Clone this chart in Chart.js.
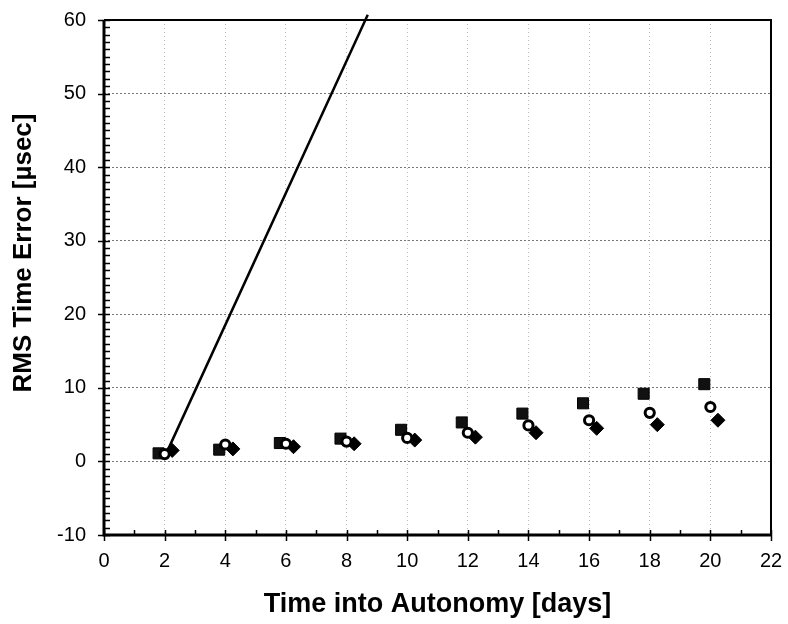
<!DOCTYPE html>
<html>
<head>
<meta charset="utf-8">
<script src="https://cdn.jsdelivr.net/npm/chart.js@4"></script>
<style>
  html, body { margin: 0; padding: 0; background: #fff; }
</style>
</head>
<body>
<canvas id="rmsChart" width="788" height="624"></canvas>
<script>
// values
const squareDays = [1.8, 3.8, 5.8, 7.8, 9.8, 11.8, 13.8, 15.8, 17.8, 19.8];
const squareErr = [1.1, 1.6, 2.5, 3.1, 4.3, 5.3, 6.5, 7.9, 9.2, 10.5];
const circleDays = [2, 4, 6, 8, 10, 12, 14, 16, 18, 20];
const circleErr = [1.0, 2.3, 2.4, 2.7, 3.2, 3.9, 4.9, 5.6, 6.6, 7.4];
const diamondDays = [2.25, 4.25, 6.25, 8.25, 10.25, 12.25, 14.25, 16.25, 18.25, 20.25];
const diamondErr = [1.5, 1.7, 2.0, 2.4, 2.9, 3.3, 3.9, 4.5, 5.0, 5.6];
const lineDays = [2.1, 8.7];
const lineErr = [1.5, 60.7];

const xTitle = 'Time into Autonomy [days]';
const yTitle = 'RMS Time Error [\u00b5sec]';

const pts = (xs, ys) => xs.map((x, i) => ({ x, y: ys[i] }));
const FONT = "'Liberation Sans', Arial, sans-serif";

// inside minor ticks, frame and rotated y title
const axisFrame = {
    id: 'axisFrame',
    afterDraw(chart) {
        const { ctx, chartArea: a, scales: { x, y } } = chart;
        ctx.save();
        ctx.strokeStyle = '#000';
        ctx.lineWidth = 1.5;
        ctx.beginPath();
        for (let v = y.min; v <= y.max; v++) {
            const py = Math.round(y.getPixelForValue(v)) + 0.5;
            const major = v % 10 === 0;
            ctx.moveTo(a.left - (major ? 6 : 0), py);
            ctx.lineTo(a.left + 6, py);
        }
        for (let v = x.min; v <= x.max; v++) {
            const px = Math.round(x.getPixelForValue(v)) + 0.5;
            const major = v % 2 === 0;
            ctx.moveTo(px, a.bottom + (major ? 6 : 0));
            ctx.lineTo(px, a.bottom - 5);
        }
        ctx.stroke();

        ctx.lineWidth = 2;
        ctx.beginPath();
        ctx.moveTo(a.left, a.top);
        ctx.lineTo(a.right, a.top);
        ctx.lineTo(a.right, a.bottom);
        ctx.stroke();
        ctx.lineWidth = 3;
        ctx.beginPath();
        ctx.moveTo(a.left, a.top);
        ctx.lineTo(a.left, a.bottom);
        ctx.lineTo(a.right, a.bottom);
        ctx.stroke();

        ctx.translate(24, 253);
        ctx.rotate(-Math.PI / 2);
        ctx.fillStyle = '#000';
        ctx.font = 'bold 26px ' + FONT;
        ctx.textAlign = 'center';
        ctx.textBaseline = 'middle';
        ctx.fillText(yTitle, 0, 0);
        ctx.restore();
    }
};

new Chart(document.getElementById('rmsChart'), {
    type: 'scatter',
    data: {
        datasets: [
            {
                type: 'line',
                data: pts(lineDays, lineErr),
                borderColor: '#000',
                borderWidth: 2.5,
                pointRadius: 0,
                clip: { left: 0, top: 6, right: 0, bottom: 0 },
                order: 0
            },
            {
                data: pts(circleDays, circleErr),
                pointStyle: 'circle',
                pointRadius: 4.6,
                pointBorderWidth: 3,
                pointBackgroundColor: '#fff',
                pointBorderColor: '#000',
                order: 1
            },
            {
                data: pts(diamondDays, diamondErr),
                pointStyle: 'rectRot',
                pointRadius: 7,
                pointBorderWidth: 1,
                pointBackgroundColor: '#000',
                pointBorderColor: '#000',
                order: 2
            },
            {
                data: pts(squareDays, squareErr),
                pointStyle: 'rect',
                pointRadius: 7.8,
                pointBorderWidth: 1,
                pointBackgroundColor: '#111',
                pointBorderColor: '#000',
                order: 3
            }
        ]
    },
    options: {
        responsive: false,
        animation: false,
        layout: { padding: { top: 20, right: 17, left: 0, bottom: 0 } },
        plugins: {
            legend: { display: false },
            tooltip: { enabled: false }
        },
        scales: {
            x: {
                type: 'linear',
                min: 0,
                max: 22,
                afterFit: (s) => { s.height = 89; s.paddingLeft = 0; s.paddingRight = 0; },
                ticks: {
                    stepSize: 2,
                    padding: 14,
                    color: '#000',
                    font: { family: FONT, size: 20 }
                },
                grid: {
                    drawTicks: false,
                    color: '#bbb',
                    lineWidth: 1
                },
                border: { display: false, dash: [1, 3] },
                title: {
                    display: true,
                    text: xTitle,
                    color: '#000',
                    font: { family: FONT, size: 27, weight: 'bold' },
                    padding: { top: 0, bottom: 3 }
                }
            },
            y: {
                min: -10,
                max: 60,
                afterFit: (s) => { s.width = 104; s.paddingTop = 0; s.paddingBottom = 0; },
                ticks: {
                    stepSize: 10,
                    padding: 18,
                    color: '#000',
                    font: { family: FONT, size: 20 }
                },
                grid: {
                    drawTicks: false,
                    color: '#777',
                    lineWidth: 1
                },
                border: { display: false, dash: [2, 2] }
            }
        }
    },
    plugins: [axisFrame]
});
</script>
</body>
</html>
